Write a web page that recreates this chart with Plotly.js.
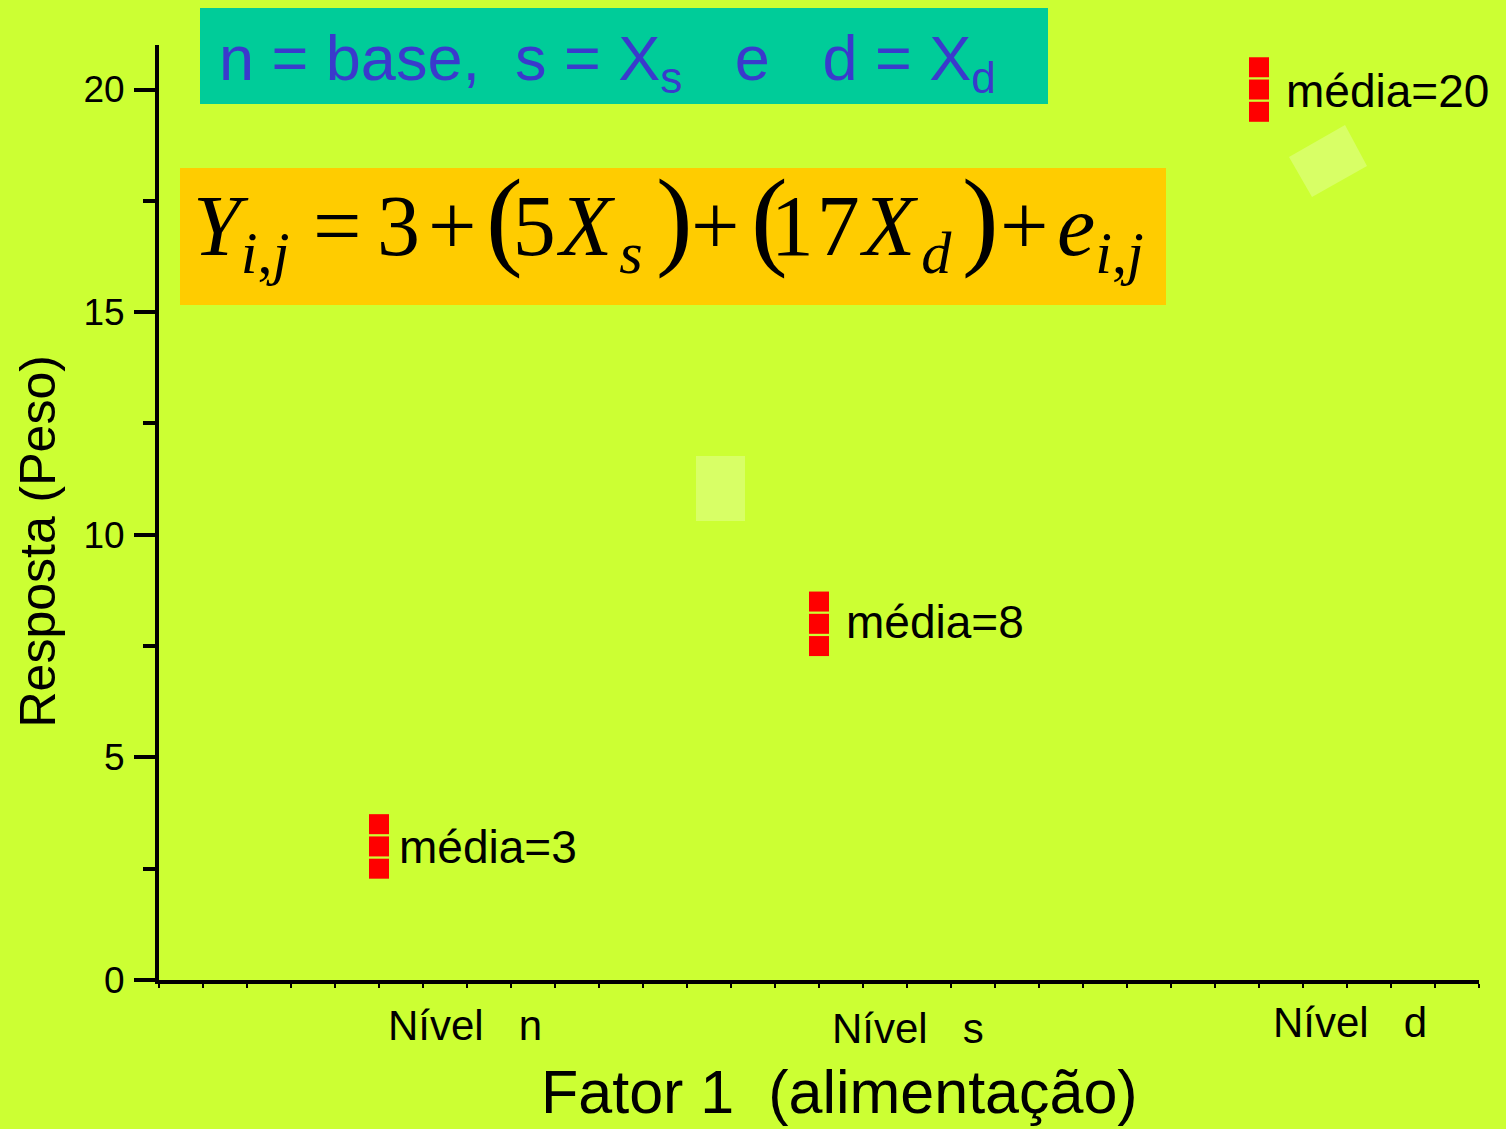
<!DOCTYPE html>
<html>
<head>
<meta charset="utf-8">
<script src="https://cdn.plot.ly/plotly-3.0.1.min.js"></script>
<style>html,body{margin:0;padding:0;background:#CCFF33;}</style>
</head>
<body>
<div id="chart" style="width:1506px;height:1129px;"></div>
<script>
// ---- data ----
const levels = ['n', 's', 'd'];
const levelPos = [1, 2, 3];
const tickLabels = ['Nível\u00a0\u00a0\u00a0n', 'Nível\u00a0\u00a0\u00a0s', 'Nível\u00a0\u00a0\u00a0d'];
const repsN = [3.5, 3.0, 2.5];
const repsS = [8.5, 8.0, 7.5];
const repsD = [20.5, 20.0, 19.5];
const means = [3, 8, 20];
const meanLabels = ['média=3', 'média=8', 'média=20'];

// ---- layout helpers (pixel -> paper) ----
const W = 1506, H = 1129, L = 159, R = 27, T = 45, B = 149;
const pw = W - L - R, ph = H - T - B;
const px = v => (v - L) / pw;
const py = v => (H - B - v) / ph;

const xs = [], ys = [];
[repsN, repsS, repsD].forEach((arr, i) => arr.forEach(v => { xs.push(levelPos[i]); ys.push(v); }));

const trace = {
  x: xs, y: ys, type: 'scatter', mode: 'markers',
  marker: {symbol: 'square', size: 20, color: '#FF0000', line: {width: 0}},
  hoverinfo: 'skip', showlegend: false
};

const font = 'Liberation Sans, Arial, sans-serif';
const serif = 'Liberation Serif, Times New Roman, serif';
const annotations = [];
const meanShiftX = [18, 25, 25];
const meanShiftY = [-1, 2, -1];
means.forEach((m, i) => annotations.push({
  x: levelPos[i], y: m, xref: 'x', yref: 'y', text: meanLabels[i],
  showarrow: false, xanchor: 'left', yanchor: 'middle', xshift: meanShiftX[i], yshift: meanShiftY[i],
  font: {family: font, size: 46, color: '#000'}
}));
const tickShiftX = [86, 89, 91];
const tickY = [1025, 1028, 1022];
tickLabels.forEach((t, i) => annotations.push({
  x: levelPos[i], y: py(tickY[i]), xref: 'x', yref: 'paper', text: t,
  showarrow: false, xanchor: 'center', yanchor: 'middle', xshift: tickShiftX[i],
  font: {family: font, size: 42, color: '#000'}
}));
// top info box text
annotations.push({
  x: px(217), y: py(62), xref: 'paper', yref: 'paper', xanchor: 'left', yanchor: 'middle',
  showarrow: false,
  text: 'n = base,\u00a0\u00a0s = X<sub>s</sub>\u00a0\u00a0\u00a0e\u00a0\u00a0\u00a0d = X<sub>d</sub>',
  font: {family: font, size: 63, color: '#3A3ACC'}
});
// equation pieces
const EQ = 86, PAR = 110, base = 255;
const subBottom = 0.36 * EQ;
const eqCenter = base - (0.891 * EQ - subBottom) / 2;
const parPieceCenter = base - (0.891 * PAR - subBottom) / 2;
const parCenter = base - 0.3375 * PAR;
const sp = '<sub>\u00a0</sub>';
const bigOpen = ls => "<span style='font-size:" + PAR + "px;letter-spacing:" + ls + "px'>(</span>";
const ls = (t, n) => "<span style='letter-spacing:" + n + "px'>" + t + "</span>";
const eqPieces = [
  {t: '<i>Y</i><sub><i>i</i>,<i>j</i></sub>', x: 191, a: 'left', c: eqCenter},
  {t: sp + '=' + sp, x: 337.5, a: 'center', c: eqCenter},
  {t: sp + '3' + sp, x: 398, a: 'center', c: eqCenter},
  {t: sp + '+' + sp, x: 452.5, a: 'center', c: eqCenter},
  {t: bigOpen(-10) + ls('5', 4) + ls('<i>X</i>', 7) + '<sub><i>s</i></sub>', x: 484, a: 'left', c: parPieceCenter},
  {t: sp + '+' + sp, x: 715.5, a: 'center', c: eqCenter},
  {t: bigOpen(-17) + ls('17', 3) + ls('<i>X</i>', 6) + '<sub><i>d</i></sub>', x: 749, a: 'left', c: parPieceCenter},
  {t: sp + '+' + sp, x: 1024.5, a: 'center', c: eqCenter},
  {t: '<i>e</i><sub><i>i</i>,<i>j</i></sub>', x: 1055, a: 'left', c: eqCenter}
];
eqPieces.forEach(p => annotations.push({
  x: px(p.x), y: py(p.c), xref: 'paper', yref: 'paper', xanchor: p.a, yanchor: 'middle',
  showarrow: false, text: p.t, font: {family: serif, size: EQ, color: '#000'}
}));
const closeParens = [[')', 674], [')', 980]];
closeParens.forEach(p => annotations.push({
  x: px(p[1]), y: py(parCenter), xref: 'paper', yref: 'paper', xanchor: 'center', yanchor: 'middle',
  showarrow: false, text: p[0], font: {family: serif, size: PAR, color: '#000'}
}));
// axis titles
annotations.push({
  x: px(839), y: py(1092), xref: 'paper', yref: 'paper', xanchor: 'center', yanchor: 'middle',
  showarrow: false, text: 'Fator 1\u00a0\u00a0(alimentação)',
  font: {family: font, size: 61, color: '#000'}
});
annotations.push({
  x: px(37.5), y: py(542), xref: 'paper', yref: 'paper', xanchor: 'center', yanchor: 'middle',
  showarrow: false, text: 'Resposta (Peso)', textangle: -90,
  font: {family: font, size: 50, color: '#000'}
});

const shapes = [
  {type: 'rect', xref: 'paper', yref: 'paper', x0: px(200), x1: px(1048), y0: py(8), y1: py(104),
   fillcolor: '#00CC99', line: {width: 0}, layer: 'below'},
  {type: 'rect', xref: 'paper', yref: 'paper', x0: px(180), x1: px(1166), y0: py(168), y1: py(305),
   fillcolor: '#FFCC00', line: {width: 0}, layer: 'below'},
  {type: 'rect', xref: 'paper', yref: 'paper', x0: px(696), x1: px(745), y0: py(456), y1: py(521),
   fillcolor: '#D8FF66', line: {width: 0}, layer: 'below'},
  {type: 'path', xref: 'paper', yref: 'paper',
   path: 'M' + px(1289) + ',' + py(157) + ' L' + px(1345) + ',' + py(125) + ' L' + px(1367) + ',' + py(166) +
         ' L' + px(1312) + ',' + py(197) + ' Z',
   fillcolor: '#D8FF66', line: {width: 0}, layer: 'below'}
];

const layout = {
  width: W, height: H,
  margin: {l: L, r: R, t: T, b: B, pad: 0},
  paper_bgcolor: '#CCFF33', plot_bgcolor: '#CCFF33',
  showlegend: false,
  xaxis: {
    range: [0.5, 3.5], showgrid: false, zeroline: false,
    showline: true, linecolor: '#000', linewidth: 4,
    tickvals: [], showticklabels: false, ticks: '',
    minor: {tickmode: 'linear', tick0: 0.5, dtick: 0.1, ticks: 'outside', ticklen: 4, tickwidth: 2, tickcolor: '#000', showgrid: false}
  },
  yaxis: {
    range: [0, 21], showgrid: false, zeroline: false,
    showline: true, linecolor: '#000', linewidth: 4,
    tickvals: [0, 5, 10, 15, 20], ticks: 'outside', ticklen: 21, tickwidth: 4, tickcolor: '#000',
    ticklabelstandoff: 2,
    tickfont: {family: font, size: 37, color: '#000'},
    minor: {tickvals: [2.5, 7.5, 12.5, 17.5], ticks: 'outside', ticklen: 12, tickwidth: 4, tickcolor: '#000', showgrid: false}
  },
  annotations: annotations,
  shapes: shapes
};

Plotly.newPlot('chart', [trace], layout, {displayModeBar: false, staticPlot: true});
</script>
</body>
</html>
